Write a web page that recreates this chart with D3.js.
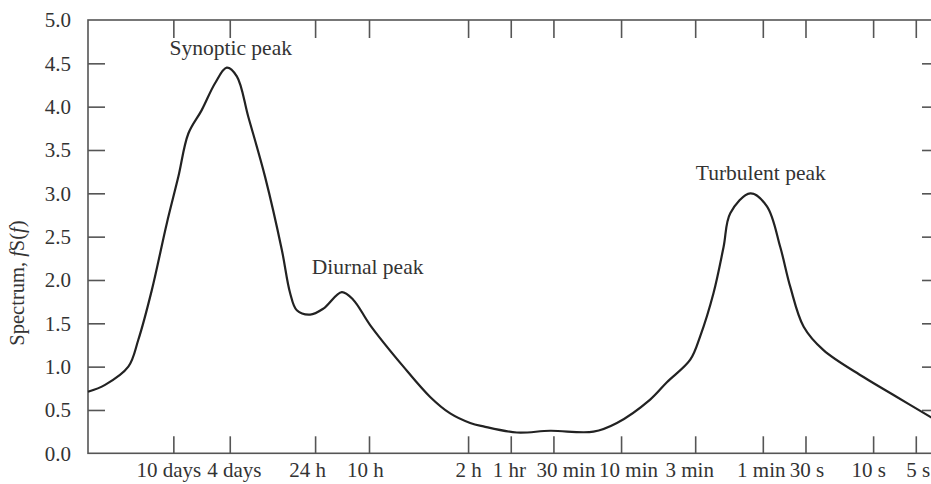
<!DOCTYPE html>
<html>
<head>
<meta charset="utf-8">
<script src="https://cdn.jsdelivr.net/npm/d3@7"></script>
<style>
  html, body { margin: 0; padding: 0; background: #fff; }
  svg { display: block; }
  text { font-family: "Liberation Serif", "DejaVu Serif", serif; fill: #333; }
</style>
</head>
<body>
<svg id="chart" width="931" height="484"></svg>
<script>
// Period (seconds) of each sampled point of the spectrum curve, and fS(f) values
const periodsSec = [3456000, 2620000, 1795000, 1526000, 1227000, 962000, 797000, 677000, 545000, 439000,
  363000, 308000, 255500, 194700, 148400, 129700, 116300, 93700, 75500, 56000,
  46400, 35350, 20580, 13330, 9630, 6960, 5610, 3260, 1897, 939,
  642, 374, 285, 195, 166, 133.6, 113.5, 101.8, 73.5, 56.1,
  45.2, 38.4, 30.9, 22.4, 11.7, 6.8, 3.95, 3.43];
const spectrum = [0.71, 0.79, 1.0, 1.31, 1.88, 2.65, 3.19, 3.69, 3.96, 4.27,
  4.45, 4.35, 3.88, 3.19, 2.35, 1.85, 1.65, 1.60, 1.67, 1.86,
  1.77, 1.48, 1.0, 0.65, 0.46, 0.35, 0.31, 0.24, 0.26, 0.25,
  0.35, 0.62, 0.82, 1.08, 1.35, 1.85, 2.38, 2.77, 3.0, 2.85,
  2.38, 1.92, 1.46, 1.19, 0.88, 0.65, 0.42, 0.36];

// X tick labels and their periods in seconds
const tickLabels = ["10 days", "4 days", "24 h", "10 h", "2 h", "1 hr", "30 min", "10 min", "3 min", "1 min", "30 s", "10 s", "5 s"];
const tickPeriods = [864000, 345600, 86400, 36000, 7200, 3600, 1800, 600, 180, 60, 30, 10, 5];

// Y ticks
const yTicks = [0, 0.5, 1.0, 1.5, 2.0, 2.5, 3.0, 3.5, 4.0, 4.5, 5.0];

// Peak annotations
const peakNames = ["Synoptic peak", "Diurnal peak", "Turbulent peak"];
const peakPeriods = [340000, 56000, 62];
const peakLabelValues = [4.6, 2.07, 3.15];

// Layout: small horizontal nudges of the bottom labels (px), as placed in the original figure
const labelNudge = [-5, 4, -8, -4, 0, -2, 12, 7, -6, -2, 1, -5, 2];

const svg = d3.select("#chart");
const mLeft = 88, mRight = 939, mTop = 20, mBottom = 453.3;

const x = d3.scaleLog().domain([3456000, 3.43]).range([mLeft, mRight]);
const y = d3.scaleLinear().domain([0, 5]).range([mBottom, mTop]);

const axisColor = "#555";

// Frame
svg.append("rect")
  .attr("x", mLeft).attr("y", mTop)
  .attr("width", mRight - mLeft).attr("height", mBottom - mTop)
  .attr("fill", "none").attr("stroke", axisColor).attr("stroke-width", 1.6);

// Y axis (left) with inward ticks
const yAxisL = d3.axisLeft(y).tickValues(yTicks).tickFormat(d3.format(".1f"))
  .tickSizeInner(-17).tickSizeOuter(0).tickPadding(17);
const gyl = svg.append("g").attr("transform", `translate(${mLeft},0)`).call(yAxisL);
gyl.select(".domain").remove();
gyl.selectAll(".tick line").attr("stroke", axisColor).attr("stroke-width", 1.6)
  .filter(d => d === 0 || d === 5).remove();
gyl.selectAll(".tick text").attr("font-size", 21).attr("fill", "#333")
  .style("font-family", "'Liberation Serif', serif");

// Y axis (right) with inward ticks
const yAxisR = d3.axisRight(y).tickValues(yTicks.filter(d => d > 0 && d < 5))
  .tickSizeInner(-17).tickSizeOuter(0).tickFormat("");
const gyr = svg.append("g").attr("transform", `translate(${mRight},0)`).call(yAxisR);
gyr.select(".domain").remove();
gyr.selectAll(".tick line").attr("stroke", axisColor).attr("stroke-width", 1.6);

// X axis (bottom)
const xAxisB = d3.axisBottom(x).tickValues(tickPeriods)
  .tickFormat((d, i) => tickLabels[i])
  .tickSizeInner(-17).tickSizeOuter(0).tickPadding(8);
const gxb = svg.append("g").attr("transform", `translate(0,${mBottom})`).call(xAxisB);
gxb.select(".domain").remove();
gxb.selectAll(".tick line").attr("stroke", axisColor).attr("stroke-width", 1.6);
gxb.selectAll(".tick text").attr("font-size", 21).attr("fill", "#333")
  .attr("y", 24).attr("dy", "0")
  .attr("x", (d, i) => labelNudge[i])
  .style("font-family", "'Liberation Serif', serif");

// X axis (top)
const xAxisT = d3.axisTop(x).tickValues(tickPeriods).tickFormat("")
  .tickSizeInner(-18).tickSizeOuter(0);
const gxt = svg.append("g").attr("transform", `translate(0,${mTop})`).call(xAxisT);
gxt.select(".domain").remove();
gxt.selectAll(".tick line").attr("stroke", axisColor).attr("stroke-width", 1.6);

// Curve
const pts = periodsSec.map((p, i) => [p, spectrum[i]]);
const line = d3.line().x(d => x(d[0])).y(d => y(d[1])).curve(d3.curveCatmullRom.alpha(0.5));
svg.append("path").datum(pts).attr("d", line)
  .attr("fill", "none").attr("stroke", "#222").attr("stroke-width", 2.2)
  .attr("stroke-linejoin", "round");

// Peak labels
const anchors = ["middle", "start", "middle"];
const dxs = [0, -30, 0];
svg.selectAll(".peak").data(peakNames).enter().append("text")
  .attr("class", "peak")
  .attr("x", (d, i) => x(peakPeriods[i]) + dxs[i])
  .attr("y", (d, i) => y(peakLabelValues[i]))
  .attr("text-anchor", (d, i) => anchors[i])
  .attr("font-size", 21.5)
  .text(d => d);

// Y axis title
const yt = svg.append("text")
  .attr("transform", `translate(24,${283}) rotate(-90)`)
  .attr("text-anchor", "middle")
  .attr("font-size", 20.5);
yt.append("tspan").text("Spectrum, ");
yt.append("tspan").attr("font-style", "italic").text("f");
yt.append("tspan").text("S(");
yt.append("tspan").attr("font-style", "italic").text("f");
yt.append("tspan").text(")");
</script>
</body>
</html>
